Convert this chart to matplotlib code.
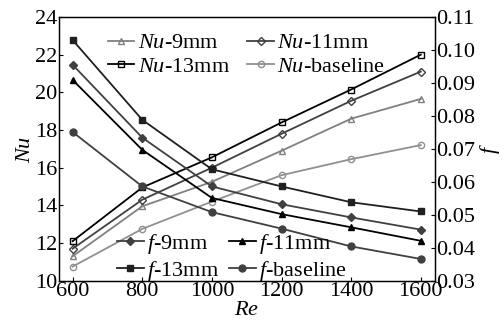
import numpy as np
import matplotlib.pyplot as plt

plt.rcParams['font.family'] = ['Liberation Serif', 'DejaVu Serif']
plt.rcParams['mathtext.fontset'] = 'custom'
plt.rcParams['mathtext.it'] = 'Liberation Serif:italic'
plt.rcParams['mathtext.rm'] = 'Liberation Serif'

re_vals = [600, 800, 1000, 1200, 1400, 1600]

nu_9 = [11.3, 13.95, 15.25, 16.9, 18.6, 19.65]
nu_11 = [11.7, 14.3, 16.0, 17.8, 19.55, 21.1]
nu_13 = [12.1, 14.95, 16.55, 18.4, 20.15, 22.0]
nu_base = [10.75, 12.75, 14.2, 15.6, 16.45, 17.2]

f_9 = [0.0955, 0.0734, 0.0586, 0.0532, 0.0492, 0.0455]
f_11 = [0.0909, 0.0697, 0.0551, 0.0502, 0.0462, 0.0421]
f_13 = [0.1030, 0.0788, 0.0638, 0.0586, 0.0538, 0.0510]
f_base = [0.0751, 0.0586, 0.0508, 0.0458, 0.0404, 0.0366]

fig = plt.figure(figsize=(5.04, 3.25), dpi=100)
ax = fig.add_axes([0.1165, 0.1363, 0.746, 0.8114])
ax2 = ax.twinx()

lw = 1.3
ms = 4.5
# Nu curves (hollow markers)
h_nu9, = ax.plot(re_vals, nu_9, '-^', color='#808080', mfc='none', lw=lw, ms=ms, label='$Nu$-9mm')
h_nu11, = ax.plot(re_vals, nu_11, '-D', color='#404040', mfc='none', lw=lw, ms=ms - 0.8, label='$Nu$-11mm')
h_nu13, = ax.plot(re_vals, nu_13, '-s', color='#000000', mfc='none', lw=lw, ms=ms - 0.5, label='$Nu$-13mm')
h_nub, = ax.plot(re_vals, nu_base, '-o', color='#909090', mfc='none', lw=lw, ms=ms, label='$Nu$-baseline')

# f curves (filled markers)
h_f9, = ax2.plot(re_vals, f_9, '-D', color='#404040', lw=lw, ms=ms - 0.8, label='$f$-9mm')
h_f11, = ax2.plot(re_vals, f_11, '-^', color='#000000', lw=lw, ms=ms, label='$f$-11mm')
h_f13, = ax2.plot(re_vals, f_13, '-s', color='#202020', lw=lw, ms=ms - 0.5, label='$f$-13mm')
h_fb, = ax2.plot(re_vals, f_base, '-o', color='#404040', lw=lw, ms=ms + 0.5, label='$f$-baseline')

ax.set_xlim(560, 1640)
ax.set_ylim(10, 24)
ax.set_xticks(re_vals)
ax.set_yticks(np.arange(10, 25, 2))
ax2.set_ylim(0.03, 0.11)
ax2.set_yticks(np.arange(0.03, 0.111, 0.01))
ax2.set_yticklabels(['%.2f' % v for v in np.arange(0.03, 0.111, 0.01)])

for a in (ax, ax2):
    a.tick_params(direction='in', length=3, width=0.8, labelsize=16, pad=1)
    for s in a.spines.values():
        s.set_linewidth(0.9)

ax.set_xlabel('$Re$', fontsize=16, labelpad=0)
ax.set_ylabel('$Nu$', fontsize=16, labelpad=0)
ax2.set_ylabel('$f$', fontsize=16, labelpad=2)

# legends filled row by row, as in the original
leg_kw = dict(ncol=2, fontsize=16, frameon=False, handlelength=1.2, handletextpad=0.15,
              labelspacing=0.12, borderpad=0, borderaxespad=0)
ax.legend(handles=[h_nu9, h_nu13, h_nu11, h_nub], loc='upper left',
          bbox_to_anchor=(0.13, 0.94), columnspacing=0.8, **leg_kw)
ax2.legend(handles=[h_f9, h_f13, h_f11, h_fb], loc='lower left',
           bbox_to_anchor=(0.155, -0.008), columnspacing=0.45, **leg_kw)

fig.savefig('out.png', dpi=100)
